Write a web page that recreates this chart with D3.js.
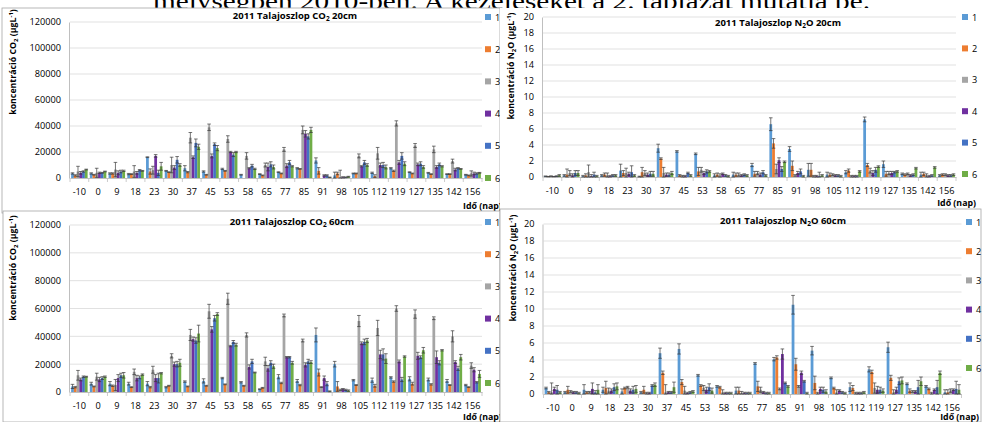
<!DOCTYPE html>
<html><head><meta charset="utf-8">
<script src="https://cdn.jsdelivr.net/npm/d3@7"></script>
<style>
body{margin:0;background:#fff;}
svg{display:block;font-family:"Open Sans","Liberation Sans",Arial,sans-serif;}
</style></head>
<body>
<svg id="c" width="989" height="422"></svg>
<script>
const categories = ["-10","0","9","18","23","30","37","45","53","58","65","77","85","91","98","105","112","119","127","135","142","156"];
const seriesNames = ["1","2","3","4","5","6"];
const seriesColors = ["#5B9BD5","#ED7D31","#A5A5A5","#7030A0","#4472C4","#70AD47"];

const co2Ticks = [0,20000,40000,60000,80000,100000,120000];
const n2oTicks = [0,2,4,6,8,10,12,14,16,18,20];

// CO2 20cm, rows = categories, columns = series 1..6
const co2_20 = [
[3500,2000,5000,4000,5000,6500],[3500,2500,4000,4000,4000,5000],[3500,3500,6500,4000,5000,5500],[3000,3000,5000,4000,6000,5500],
[16000,5000,6000,17000,4000,9000],[5500,4500,10000,8000,14000,10000],[7500,4500,31000,16000,27000,24000],[5000,2500,39000,17000,26000,23000],
[7000,5500,30000,20000,18000,20000],[2500,0,17000,7500,9500,7000],[3000,2000,10000,8500,10500,8500],[4500,3500,22000,9500,12000,9000],
[7500,7000,37000,34000,32000,37000],[13500,5500,0,2000,2000,500],[2000,3500,500,500,500,1000],[3500,3500,17000,9000,12000,10000],
[4000,1500,19000,10000,10000,8500],[7500,5500,42000,12000,17000,11000],[4500,3500,25000,10500,11000,8500],[4000,3000,22000,8500,10500,9000],
[3000,3000,13000,6500,7500,7000],[2500,2000,3500,3500,3500,4000]];
const co2_20_err = [
[500,500,4000,1000,500,300],[500,300,3500,500,300,300],[500,500,5500,1500,1000,500],[500,300,4500,1000,500,300],
[300,2000,3000,1000,2000,3000],[300,300,6000,1500,2500,1000],[2000,500,4000,1000,3000,2000],[500,300,2500,1500,1000,2000],
[500,300,2500,500,1500,500],[300,0,2500,500,1000,500],[300,300,1500,3000,2000,1500],[300,300,1500,1500,1500,500],
[500,300,3000,2500,2000,2000],[2000,2500,0,500,500,200],[2500,1000,5500,500,300,300],[300,300,1500,500,1500,1000],
[500,1000,4500,1500,2000,1500],[500,500,2000,1500,2500,1500],[300,300,1500,1000,1500,1000],[300,300,2500,1000,1000,500],
[300,300,1500,1000,500,300],[300,300,2000,1000,500,300]];

// N2O 20cm
const n2o_20 = [
[0.1,0.05,0.1,0.05,0.1,0.2],[0.2,0.3,0.5,0.2,0.5,0.5],[0.1,0.2,0.6,0.1,0.3,0.1],[0.2,0.3,0.2,0.1,0.2,0.2],
[0.8,0.5,0.5,0.4,0.6,0.2],[0.05,0.6,0.5,0.3,0.4,0.4],[3.6,2.3,0.5,0.3,0.3,0.5],[3.2,0.2,0.1,0.1,0.5,0.2],
[2.9,0.7,0.9,0.5,0.7,0.7],[0.2,0.3,0.2,0.4,0.2,0.1],[0.3,0.3,0.3,0.2,0.3,0.2],[1.5,0.4,0.5,0.3,0.6,0.2],
[6.6,4.2,1.0,2.1,1.0,1.9],[3.5,1.4,0.2,0.5,0.7,0.1],[0.9,0.9,0.1,0.1,0.1,0.2],[0.3,0.3,0.3,0.2,0.2,0.1],
[0.6,0.8,0.1,0.1,0.1,0.7],[7.2,1.5,0.8,0.5,0.9,1.3],[1.6,0.4,0.5,0.5,0.6,0.7],[0.4,0.3,0.4,0.2,0.3,1.1],
[0.3,0.4,0.2,0.1,0.2,1.2],[0.2,0.3,0.3,0.2,0.2,0.3]];
const n2o_20_err = [
[0.02,0.02,0.05,0.02,0.05,0.1],[0.1,0.7,0.3,0.2,0.3,0.3],[0.1,0.2,0.9,0.2,0.3,0.1],[0.1,0.2,0.3,0.1,0.1,0.1],
[0.8,0.3,0.6,0.2,0.8,0.1],[0.05,0.6,0.3,0.2,0.3,0.3],[0.5,0.1,0.7,0.2,0.2,0.2],[0.1,0.1,0.1,0.1,0.1,0.1],
[0.1,0.5,0.3,0.2,0.2,0.1],[0.2,0.2,0.2,0.1,0.1,0.1],[0.3,0.2,0.2,0.1,0.1,0.1],[0.2,0.3,0.2,0.2,0.2,0.1],
[0.8,0.6,0.6,0.3,0.3,0.1],[0.3,0.6,0.1,0.2,0.3,0.1],[0.8,0.8,0.1,0.1,0.5,0.1],[0.3,0.2,0.1,0.1,0.1,0.1],
[0.2,0.2,0.1,0.1,0.1,0.1],[0.3,0.2,0.3,0.3,0.3,0.1],[0.4,0.3,0.2,0.2,0.1,0.1],[0.1,0.1,0.1,0.1,0.1,0.1],
[0.3,0.2,0.2,0.1,0.1,0.1],[0.1,0.1,0.1,0.1,0.1,0.1]];

// CO2 60cm
const co2_60 = [
[4000,3500,12000,9000,11000,11000],[6000,4000,11000,9000,10000,11000],[6000,4500,5000,10000,12000,12000],[6000,3500,14500,10000,10500,12500],
[6000,3500,16000,10000,10000,13500],[3500,4500,26000,20000,20000,21000],[7500,4000,41000,38000,37000,42000],[8000,4500,58000,45000,53000,56000],
[10000,5500,67000,33000,36000,34000],[7000,4500,41000,18000,22000,14000],[2000,3000,22000,17000,21000,18500],[11000,6500,55000,25000,25000,21000],
[8000,5000,37000,19500,22000,21500],[41000,14000,3500,10000,6000,500],[20000,4000,1500,2000,1500,1000],[8500,5000,51000,35000,36000,37000],
[8500,4500,46000,27000,27000,24000],[10500,7500,60000,22000,9000,25500],[9500,6000,56000,26000,25000,30000],[9000,5500,53000,25000,21000,30000],
[8000,5000,40000,21500,17000,25000],[5000,3500,19000,16000,7000,13000]];
const co2_60_err = [
[1500,500,3500,1000,500,300],[1000,300,2500,1500,1000,500],[1500,500,4000,2500,1500,2000],[1000,300,2000,2000,1000,500],
[1500,500,2500,2500,3500,500],[500,300,1500,1500,2000,2500],[500,300,4000,1500,2000,6000],[1500,300,5000,2000,2000,1000],
[500,300,4000,500,1000,1000],[500,300,1500,1500,1500,300],[300,300,3000,2000,1500,1500],[1500,500,1000,500,500,1000],
[1000,500,1000,1500,1500,1000],[5000,2500,300,1500,1500,300],[2000,3500,500,500,500,500],[500,300,4000,1000,2000,1500],
[1500,1000,5500,3000,4000,3500],[500,500,2000,1000,1500,500],[1500,1000,3000,2500,1000,2000],[1000,500,1000,4500,1500,500],
[1000,300,4000,1000,1500,2000],[500,300,2000,1500,500,2500]];

// N2O 60cm
const n2o_60 = [
[0.7,0.2,0.2,0.6,0.5,0.2],[0.2,0.5,0.3,0.2,0.2,0.1],[0.5,0.2,0.2,0.6,0.2,0.5],[0.5,0.7,0.4,0.4,0.8,0.9],
[0.3,0.7,0.8,0.4,0.5,0.6],[0.2,0.5,0.1,0.1,1.0,1.1],[4.8,2.5,0.2,0.2,0.2,0.8],[5.3,1.4,0.4,0.1,0.2,0.3],
[2.2,1.0,0.7,0.5,0.8,0.4],[0.9,0.8,0.2,0.1,0.1,0.1],[0.4,0.4,0.1,0.1,0.1,0.1],[3.6,0.9,0.5,0.2,0.1,0.1],
[4.1,4.3,0.6,4.7,1.3,0.9],[10.5,3.5,0.9,2.5,1.5,0.1],[5.1,1.3,0.1,0.6,0.5,0.3],[1.9,0.7,0.2,0.4,0.2,0.1],
[0.8,0.7,0.1,0.1,0.1,0.2],[2.9,2.6,0.7,0.5,0.5,0.4],[5.5,1.9,0.2,0.5,1.5,1.6],[1.2,0.4,0.3,0.3,0.8,1.5],
[0.9,0.6,0.1,0.5,0.8,2.5],[0.2,0.2,0.4,0.5,0.6,0.5]];
const n2o_60_err = [
[0.1,0.1,1.1,0.2,0.5,0.1],[0.1,0.4,0.1,0.1,0.1,0.1],[0.6,0.1,0.1,0.7,0.2,0.6],[0.3,0.8,0.3,0.2,0.4,0.4],
[0.3,0.1,0.1,0.2,0.4,0.4],[0.1,0.4,0.1,0.1,0.1,0.2],[0.6,0.2,0.9,0.1,0.1,0.6],[0.6,0.3,0.5,0.1,0.1,0.1],
[0.1,0.1,0.3,0.3,0.4,0.3],[0.1,0.1,0.3,0.1,0.1,0.1],[0.4,0.4,0.2,0.1,0.1,0.1],[0.1,0.6,0.3,0.1,0.1,0.1],
[0.2,0.2,0.1,0.6,0.1,0.1],[1.1,0.7,0.1,0.2,0.1,0.1],[0.5,0.8,0.1,0.2,0.3,0.2],[0.1,0.1,0.3,0.1,0.1,0.1],
[0.5,0.3,0.1,0.1,0.1,0.1],[0.3,0.2,0.6,0.4,0.3,0.2],[0.6,0.3,0.3,0.3,0.4,0.4],[0.1,0.2,0.1,0.1,0.8,0.5],
[0.1,0.1,0.1,0.1,0.8,0.2],[0.3,0.3,0.2,0.1,0.9,0.6]];

const svg = d3.select("#c");

// header text (partly hidden behind the charts)
svg.append("text").attr("x",153).attr("y",9)
  .attr("font-family","'Liberation Serif','DejaVu Serif',serif").attr("font-size",23)
  .attr("textLength",717).attr("lengthAdjust","spacingAndGlyphs")
  .text("mélységben 2010-ben. A kezeléseket a 2. táblázat mutatja be.");

const panels = [
 {bg:[2,8,498,205], frame:true, x:[70,482], y:[22,178], ticks:co2Ticks, vals:co2_20, errs:co2_20_err,
  gas:"CO", depth:"20cm", titleX:295, titleY:19, ylabX:16, ylabY:62, legX:485, legY:[17,178], idoX:463, idoY:209, idoAnchor:"start"},
 {bg:[500,8,489,204], frame:false, x:[543,956], y:[17,177], ticks:n2oTicks, vals:n2o_20, errs:n2o_20_err,
  gas:"N", depth:"20cm", titleX:778, titleY:26, ylabX:514, ylabY:66, legX:962, legY:[17,174], idoX:976, idoY:206, idoAnchor:"end"},
 {bg:[3,211,497,211], frame:true, x:[70,482], y:[225,392], ticks:co2Ticks, vals:co2_60, errs:co2_60_err,
  gas:"CO", depth:"60cm", titleX:292, titleY:225, ylabX:16, ylabY:268, legX:485, legY:[222,383], idoX:463, idoY:420, idoAnchor:"start"},
 {bg:[500,209,481,213], frame:true, x:[543.5,961.5], y:[224,394], ticks:n2oTicks, vals:n2o_60, errs:n2o_60_err,
  gas:"N", depth:"60cm", titleX:783, titleY:224, ylabX:516, ylabY:268, legX:966, legY:[222,368], idoX:979, idoY:420, idoAnchor:"end"}
];

const tickFont = 9.2;

panels.forEach(p => {
  const g = svg.append("g");
  g.append("rect").attr("x",p.bg[0]).attr("y",p.bg[1]).attr("width",p.bg[2]).attr("height",p.bg[3])
    .attr("fill","#fff").attr("stroke", p.frame ? "#a6a6a6" : "none").attr("stroke-width",0.8);

  const x = d3.scaleBand().domain(categories).range(p.x).paddingInner(0.12).paddingOuter(0.06);
  const xs = d3.scaleBand().domain(seriesNames).range([0, x.bandwidth()]).padding(0);
  const ymax = p.ticks[p.ticks.length-1];
  const y = d3.scaleLinear().domain([0, ymax]).range([p.y[1], p.y[0]]);

  // gridlines
  g.append("g").selectAll("line").data(p.ticks.filter(t=>t>0)).join("line")
    .attr("x1",p.x[0]).attr("x2",p.x[1]).attr("y1",d=>y(d)).attr("y2",d=>y(d))
    .attr("stroke","#d9d9d9").attr("stroke-width",0.8);

  // y axis
  const ya = g.append("g").attr("transform",`translate(${p.x[0]-1},0)`)
    .call(d3.axisLeft(y).tickValues(p.ticks).tickSize(0).tickPadding(8).tickFormat(d=>String(d)));
  ya.select(".domain").attr("stroke","#bfbfbf");
  ya.selectAll("text").attr("font-size",tickFont).attr("fill","#000").attr("font-family","'Open Sans',Arial,sans-serif");

  // x axis
  const xa = g.append("g").attr("transform",`translate(0,${p.y[1]})`)
    .call(d3.axisBottom(x).tickSize(0).tickPadding(10));
  xa.select(".domain").attr("stroke","#bfbfbf");
  xa.selectAll("text").attr("font-size",tickFont).attr("fill","#000").attr("font-family","'Open Sans',Arial,sans-serif");
  // boundary tick marks
  const bounds = d3.range(categories.length+1).map(i => p.x[0] + i*(p.x[1]-p.x[0])/categories.length);
  g.append("g").selectAll("line").data(bounds).join("line")
    .attr("x1",d=>d).attr("x2",d=>d).attr("y1",p.y[1]).attr("y2",p.y[1]+4)
    .attr("stroke","#bfbfbf").attr("stroke-width",0.8);

  // bars
  const flat = [];
  p.vals.forEach((row,ci) => row.forEach((v,si) => flat.push({c:categories[ci], s:seriesNames[si], si, v, e:p.errs[ci][si]})));
  g.append("g").selectAll("rect").data(flat).join("rect")
    .attr("x",d=>x(d.c)+xs(d.s)).attr("width",xs.bandwidth())
    .attr("y",d=>y(d.v)).attr("height",d=>y(0)-y(d.v))
    .attr("fill",d=>seriesColors[d.si]);

  // error bars
  const eg = g.append("g").attr("stroke","#3a3a3a").attr("stroke-width",0.7);
  flat.filter(d=>d.e>0).forEach(d => {
    const cx = x(d.c)+xs(d.s)+xs.bandwidth()/2;
    const hi = y(Math.min(ymax, d.v+d.e)), lo = y(Math.max(0, d.v-d.e));
    eg.append("line").attr("x1",cx).attr("x2",cx).attr("y1",hi).attr("y2",lo);
    eg.append("line").attr("x1",cx-1.8).attr("x2",cx+1.8).attr("y1",hi).attr("y2",hi);
    eg.append("line").attr("x1",cx-1.8).attr("x2",cx+1.8).attr("y1",lo).attr("y2",lo);
  });

  // title
  const t = g.append("text").attr("x",p.titleX).attr("y",p.titleY).attr("text-anchor","middle")
    .attr("font-size",9.5).attr("font-weight","bold").attr("font-family","'Open Sans',Arial,sans-serif");
  if (p.gas === "CO") {
    t.append("tspan").text("2011 Talajoszlop  CO");
    t.append("tspan").attr("font-size",6.5).attr("dy",2).text("2");
    t.append("tspan").attr("dy",-2).text(" " + p.depth);
  } else {
    t.append("tspan").text("2011 Talajoszlop   N");
    t.append("tspan").attr("font-size",6.5).attr("dy",2).text("2");
    t.append("tspan").attr("dy",-2).text("O  " + p.depth);
  }

  // y label
  const yl = g.append("text").attr("transform",`translate(${p.ylabX},${p.ylabY}) rotate(-90)`)
    .attr("text-anchor","middle").attr("font-size",8.8).attr("font-weight","bold")
    .attr("font-family","'Open Sans',Arial,sans-serif");
  if (p.gas === "CO") {
    yl.append("tspan").text("koncentráció CO");
    yl.append("tspan").attr("font-size",6).attr("dy",2).text("2");
    yl.append("tspan").attr("dy",-2).text(" (µgL");
  } else {
    yl.append("tspan").text("koncentráció N");
    yl.append("tspan").attr("font-size",6).attr("dy",2).text("2");
    yl.append("tspan").attr("dy",-2).text("O  (µgL");
  }
  yl.append("tspan").attr("font-size",6).attr("dy",-3).text("-1");
  yl.append("tspan").attr("dy",3).text(")");

  // legend
  const ly = d3.scalePoint().domain(seriesNames).range(p.legY);
  const lg = g.append("g");
  seriesNames.forEach((s,i) => {
    lg.append("rect").attr("x",p.legX).attr("y",ly(s)-3).attr("width",6).attr("height",6).attr("fill",seriesColors[i]);
    lg.append("text").attr("x",p.legX+10).attr("y",ly(s)+3.5).attr("font-size",tickFont)
      .attr("font-family","'Open Sans',Arial,sans-serif").text(s);
  });

  // x label
  g.append("text").attr("x",p.idoX).attr("y",p.idoY).attr("text-anchor",p.idoAnchor)
    .attr("font-size",8.8).attr("font-weight","bold")
    .attr("font-family","'Open Sans',Arial,sans-serif").text("Idő (nap)");
});
</script>
</body></html>
